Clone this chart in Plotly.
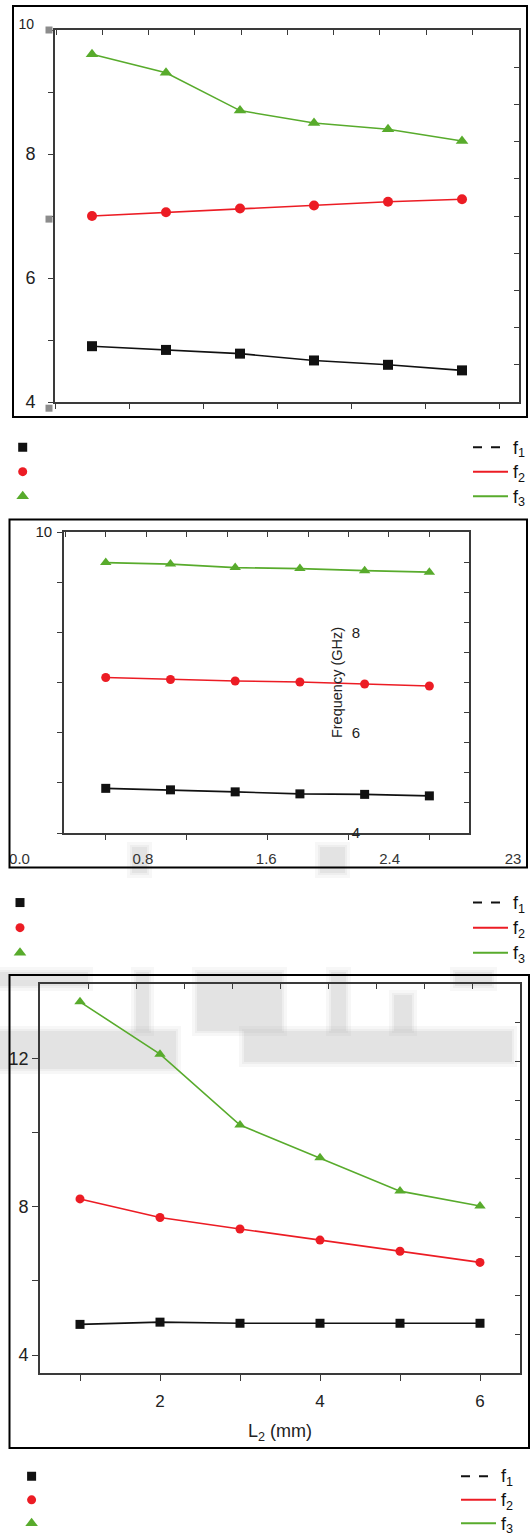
import plotly.graph_objects as go

W, H = 531, 1540
FONT = "Liberation Sans, Arial, sans-serif"

# ---- data -------------------------------------------------------------
series_names = ["f<sub>1</sub>", "f<sub>2</sub>", "f<sub>3</sub>"]

# panel (a)
a_x = [1, 2, 3, 4, 5, 6]
a_f1 = [4.90, 4.84, 4.78, 4.67, 4.60, 4.51]
a_f2 = [7.00, 7.06, 7.12, 7.17, 7.23, 7.27]
a_f3 = [9.61, 9.31, 8.70, 8.50, 8.40, 8.21]
a_nodes_y = [10.0, 6.95, 3.9]

# panel (b)
b_x = [0.4, 0.8, 1.2, 1.6, 2.0, 2.4]
b_f1 = [4.89, 4.86, 4.82, 4.78, 4.77, 4.74]
b_f2 = [7.10, 7.06, 7.03, 7.01, 6.97, 6.93]
b_f3 = [9.39, 9.36, 9.29, 9.27, 9.23, 9.20]
b_scale_vals = [0.0, 0.8, 1.6, 2.4, 3.2]
b_scale_text = ["0.0", "0.8", "1.6", "2.4", "23"]

# panel (c)
c_x = [1, 2, 3, 4, 5, 6]
c_f1 = [4.83, 4.89, 4.86, 4.86, 4.86, 4.86]
c_f2 = [8.21, 7.71, 7.40, 7.10, 6.80, 6.50]
c_f3 = [13.52, 12.11, 10.20, 9.32, 8.42, 8.02]

# ---- style ------------------------------------------------------------
BLACK, RED, GREEN = "#111111", "#ec1c24", "#58ab2c"
colors = [BLACK, RED, GREEN]
symbols = ["square", "circle", "triangle-up"]
AXC = "#3a3a3a"
LEGEND_TEXT_PX = 18


def px_x(v):
    return v / W


def px_y(v):
    return 1 - v / H


def xdom(l, r):
    return [px_x(l), px_x(r)]


def ydom(t, b):
    return [px_y(b), px_y(t)]


fig = go.Figure()


def add_series(xs, ys_list, xa, ya, msize):
    for ys, c, s in zip(ys_list, colors, symbols):
        fig.add_trace(go.Scatter(
            x=xs, y=ys, xaxis=xa, yaxis=ya, mode="lines+markers",
            line=dict(color=c, width=1.6),
            marker=dict(color=c, symbol=s, size=msize + (1 if s == "triangle-up" else 0)),
            showlegend=False, cliponaxis=False, hoverinfo="skip"))


def add_axis_holder(xa, ya):
    # empty trace so that an auxiliary axis pair gets drawn
    fig.add_trace(go.Scatter(x=[None], y=[None], xaxis=xa, yaxis=ya, mode="markers",
                             showlegend=False, hoverinfo="skip"))


def add_legends(left_key, right_key):
    for c, s in zip(colors, symbols):
        fig.add_trace(go.Scatter(
            x=[None], y=[None], mode="markers", name=" ", legend=left_key,
            marker=dict(color=c, symbol=s, size=11 if s == "triangle-up" else 9),
            showlegend=True))
    for i, (c, n) in enumerate(zip(colors, series_names)):
        label = f'<span style="font-size:{LEGEND_TEXT_PX}px">{n}</span>'
        fig.add_trace(go.Scatter(
            x=[None], y=[None], mode="lines", name=label, legend=right_key,
            line=dict(color=c, width=2, dash="dash" if i == 0 else "solid"),
            showlegend=True))


add_series(a_x, [a_f1, a_f2, a_f3], "x", "y", 10)
# small grey nodes sitting on the left spine of panel (a)
fig.add_trace(go.Scatter(
    x=[0.4] * len(a_nodes_y), y=a_nodes_y, xaxis="x8", yaxis="y10", mode="markers",
    marker=dict(color="#8c8c8c", symbol="square", size=7), showlegend=False,
    cliponaxis=False, hoverinfo="skip"))
add_series(b_x, [b_f1, b_f2, b_f3], "x3", "y4", 9)
add_series(c_x, [c_f1, c_f2, c_f3], "x6", "y7", 9)
for xa, ya in [("x2", "y"), ("x", "y2"), ("x", "y3"), ("x4", "y4"), ("x3", "y5"),
               ("x3", "y6"), ("x5", "y9"), ("x7", "y7"), ("x6", "y8")]:
    add_axis_holder(xa, ya)
add_legends("legend", "legend2")
add_legends("legend3", "legend4")
add_legends("legend5", "legend6")

base_axis = dict(showgrid=False, zeroline=False, showline=True, linecolor=AXC,
                 linewidth=1.6, tickcolor=AXC, tickwidth=1.4, ticklen=5,
                 tickfont=dict(family=FONT, size=15, color="#222"))


def ax(**kw):
    d = dict(base_axis)
    d.update(kw)
    return d


# panel (a) axes
A_XR, A_YR = [0.5, 6.77], [4, 10]
A_PX_PER_UNIT = (402 - 30) / (A_YR[1] - A_YR[0])
fig.update_layout(
    xaxis=ax(domain=xdom(55, 519), anchor="y", range=A_XR, tick0=0.5, dtick=1,
             ticks="outside", showticklabels=False),
    xaxis2=ax(overlaying="x", side="top", anchor="y", range=A_XR, tick0=1.14,
              dtick=0.625, ticks="inside", showticklabels=False),
    yaxis=ax(domain=ydom(30, 402), anchor="x", range=A_YR, tickmode="array",
             tickvals=[4, 5, 6, 7, 8, 9, 10], ticktext=["4", "", "6", "", "8", "", ""],
             ticks="outside", ticklabelstandoff=9, tickfont=dict(family=FONT, size=18, color="#222")),
    yaxis2=ax(overlaying="y", side="right", anchor="x", range=A_YR, tick0=4.6,
              dtick=0.6, ticks="inside", showticklabels=False),
    yaxis3=dict(overlaying="y", side="left", anchor="x", range=A_YR, tickmode="array",
                tickvals=[10], ticktext=["10"], ticks="", showline=False, showgrid=False,
                zeroline=False, ticklabelshift=-6, ticklabelstandoff=20,
                tickfont=dict(family=FONT, size=14, color="#222")),
    # hidden frame that extends a little past the left spine for the grey nodes
    xaxis8=dict(domain=xdom(45, 55), anchor="y10", range=[0, 1], visible=False),
    yaxis10=dict(domain=ydom(20, 412), anchor="x8", visible=False,
                 range=[A_YR[0] - 10 / A_PX_PER_UNIT, A_YR[1] + 10 / A_PX_PER_UNIT]),
)

# panel (b) axes
B_XR, B_YR = [0.142, 2.645], [4, 10]
fig.update_layout(
    xaxis3=ax(domain=xdom(64, 469), anchor="y4", range=B_XR, tick0=0.4, dtick=0.5,
              ticks="outside", showticklabels=False),
    xaxis4=ax(overlaying="x3", side="top", anchor="y4", range=B_XR, tick0=0.4,
              dtick=0.25, ticks="inside", showticklabels=False),
    xaxis5=dict(domain=xdom(19.5, 513), anchor="free", position=px_y(848), range=[0, 3.2],
                tickmode="array", tickvals=b_scale_vals, ticktext=b_scale_text,
                showline=False, showgrid=False, zeroline=False, ticks="",
                tickfont=dict(family=FONT, size=15, color="#333")),
    yaxis9=dict(domain=ydom(840, 848), anchor="x5", range=[0, 1], visible=False),
    yaxis4=ax(domain=ydom(532, 833), anchor="x3", range=B_YR, tickmode="array",
              tickvals=[4, 5, 6, 7, 8, 9, 10], ticktext=["", "", "", "", "", "", "10"],
              ticks="outside", ticklabelstandoff=2),
    yaxis5=ax(overlaying="y4", side="right", anchor="x3", range=B_YR, tick0=4.6,
              dtick=0.6, ticks="inside", showticklabels=False),
    yaxis6=dict(overlaying="y4", side="left", anchor="free", position=px_x(360),
                range=B_YR, tickmode="array", tickvals=[4, 6, 8],
                ticks="", showline=False, showgrid=False, zeroline=False,
                tickfont=dict(family=FONT, size=15, color="#222"),
                title=dict(text="Frequency (GHz)", standoff=4,
                           font=dict(family=FONT, size=14.5, color="#222"))),
)

# panel (c) axes
C_XR, C_YR = [0.5, 6.5], [3.52, 14]
fig.update_layout(
    xaxis6=ax(domain=xdom(40, 520), anchor="y7", range=C_XR, tickmode="array",
              tickvals=[1, 2, 3, 4, 5, 6], ticktext=["", "2", "", "4", "", "6"],
              ticks="outside", ticklen=6, ticklabelstandoff=6,
              tickfont=dict(family=FONT, size=17, color="#222"),
              title=dict(text="L<sub>2</sub> (mm)", standoff=14,
                         font=dict(family=FONT, size=18, color="#222"))),
    xaxis7=ax(overlaying="x6", side="top", anchor="y7", range=C_XR, tick0=1.1,
              dtick=0.6, ticks="inside", showticklabels=False),
    yaxis7=ax(domain=ydom(984, 1373), anchor="x6", range=C_YR, tickmode="array",
              tickvals=[4, 6, 8, 10, 12], ticktext=["4", "", "8", "", "12"],
              ticks="outside", ticklen=6, ticklabelstandoff=0,
              tickfont=dict(family=FONT, size=18, color="#222")),
    yaxis8=ax(overlaying="y7", side="right", anchor="x6", range=C_YR, tick0=4.57,
              dtick=1.05, ticks="inside", showticklabels=False),
)

# outer frames around each panel
frames = [(13, 6, 527, 417), (9.5, 519.5, 527, 867.5), (9.5, 975, 529, 1448)]
for l, t, r, b in frames:
    fig.add_shape(type="rect", xref="paper", yref="paper", x0=px_x(l), x1=px_x(r),
                  y0=px_y(b), y1=px_y(t), line=dict(color="#000", width=2), layer="above")

# faint grey smudges printed over the lower panels (soft edge + core)
smudges = [
    (0, 1031, 176, 1069), (244, 1031, 512, 1062), (0, 972, 88, 986),
    (136, 972, 149, 1031), (197, 972, 282, 1031), (331, 972, 346, 1031),
    (394, 995, 412, 1031), (455, 972, 492, 986),
    (132, 847, 147, 873), (320, 847, 345, 873),
]
for grow, alpha in [(5, 0.1), (2, 0.12), (0, 0.18)]:
    for l, t, r, b in smudges:
        fig.add_shape(type="rect", xref="paper", yref="paper",
                      x0=px_x(l - grow), x1=px_x(r + grow),
                      y0=px_y(b + grow), y1=px_y(t - grow), line=dict(width=0),
                      fillcolor=f"rgba(175,175,175,{alpha})", layer="below")


def legend_box(x, top, size, xanchor="left", iw=30):
    return dict(x=x, y=px_y(top), xanchor=xanchor, yanchor="top",
                bgcolor="rgba(0,0,0,0)", borderwidth=0, itemwidth=iw,
                font=dict(family=FONT, size=size, color="#111"), tracegroupgap=0)


fig.update_layout(
    legend=legend_box(px_x(2.7), 430, 16.5),
    legend2=legend_box(1, 430, 16.5, "right", 35),
    legend3=legend_box(0, 885, 17),
    legend4=legend_box(1, 885, 17, "right", 35),
    legend5=legend_box(px_x(11.6), 1459.5, 15.8),
    legend6=legend_box(px_x(456), 1459.5, 15.8, "left", 35),
)

fig.update_layout(
    width=W, height=H, margin=dict(l=0, r=0, t=0, b=0, autoexpand=False),
    paper_bgcolor="white", plot_bgcolor="rgba(0,0,0,0)",
    font=dict(family=FONT, color="#222"), showlegend=True,
)

fig.write_html("out.html")
